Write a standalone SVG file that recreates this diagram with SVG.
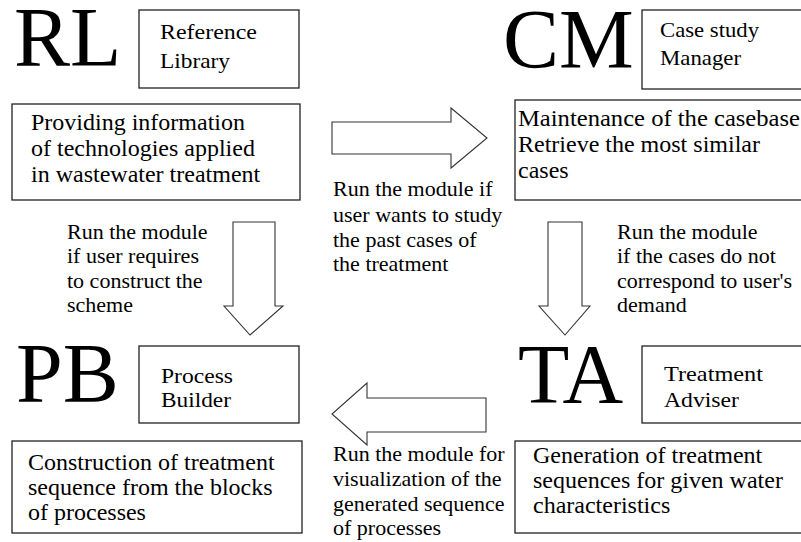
<svg xmlns="http://www.w3.org/2000/svg" width="801" height="542" viewBox="0 0 801 542">
<style>
text{font-family:"Liberation Serif","Times New Roman",serif;fill:#000}
.big{font-size:84px}
.lab{font-size:21px}
.body{font-size:24px}
.mid{font-size:22px}
.box{fill:#fff;stroke:#222;stroke-width:1.3}
.arrow{fill:#fff;stroke:#333;stroke-width:1.1}
</style>
<rect width="801" height="542" fill="#fff"/>
<g id="RL">
<text class="big" x="14" y="66">RL</text>
<rect class="box" x="139" y="10" width="160" height="78"/>
<text class="lab" x="160" y="39" textLength="97" lengthAdjust="spacingAndGlyphs">Reference</text>
<text class="lab" x="160" y="68" textLength="70" lengthAdjust="spacingAndGlyphs">Library</text>
<rect class="box" x="12" y="104" width="288" height="96"/>
<text class="body" x="31" y="130">Providing information</text>
<text class="body" x="31" y="156">of technologies applied</text>
<text class="body" x="31" y="182">in wastewater treatment</text>
</g>
<g id="CM">
<text class="big" x="503" y="68">CM</text>
<rect class="box" x="642" y="10" width="170" height="79"/>
<text class="lab" x="660" y="37" textLength="99" lengthAdjust="spacingAndGlyphs">Case study</text>
<text class="lab" x="660" y="65" textLength="81" lengthAdjust="spacingAndGlyphs">Manager</text>
<rect class="box" x="515" y="100" width="300" height="100"/>
<text class="body" x="518" y="126" textLength="282" lengthAdjust="spacingAndGlyphs">Maintenance of the casebase</text>
<text class="body" x="518" y="152">Retrieve the most similar</text>
<text class="body" x="518" y="178">cases</text>
</g>
<g id="PB">
<text class="big" x="16" y="402">PB</text>
<rect class="box" x="139" y="346" width="160" height="77"/>
<text class="lab" x="161" y="383" textLength="72" lengthAdjust="spacingAndGlyphs">Process</text>
<text class="lab" x="161" y="407" textLength="70" lengthAdjust="spacingAndGlyphs">Builder</text>
<rect class="box" x="12" y="441" width="290" height="92"/>
<text class="body" x="28" y="470">Construction of treatment</text>
<text class="body" x="28" y="495">sequence from the blocks</text>
<text class="body" x="28" y="520">of processes</text>
</g>
<g id="TA">
<text class="big" x="518" y="403">TA</text>
<rect class="box" x="642" y="346" width="170" height="77"/>
<text class="lab" x="664" y="381" textLength="99" lengthAdjust="spacingAndGlyphs">Treatment</text>
<text class="lab" x="664" y="407" textLength="75" lengthAdjust="spacingAndGlyphs">Adviser</text>
<rect class="box" x="515" y="441" width="300" height="92"/>
<text class="body" x="533" y="463">Generation of treatment</text>
<text class="body" x="533" y="488">sequences for given water</text>
<text class="body" x="533" y="513">characteristics</text>
</g>
<g id="connectors">
<polygon class="arrow" points="332,122 451,122 451,108 487,138 451,168 451,154 332,154"/>
<polygon class="arrow" points="233,222 275,222 275,306 283,306 250,335 224,306 233,306"/>
<polygon class="arrow" points="548,222 582,222 582,306 590,306 565,335 539,306 548,306"/>
<polygon class="arrow" points="486,398 486,432 367,432 367,445 332,414 367,383 367,398"/>
</g>
<g id="labels">
<text class="mid" x="333" y="196">Run the module if</text>
<text class="mid" x="333" y="222">user wants to study</text>
<text class="mid" x="333" y="247">the past cases of</text>
<text class="mid" x="333" y="271">the treatment</text>
<text class="mid" x="67" y="239">Run the module</text>
<text class="mid" x="67" y="263">if user requires</text>
<text class="mid" x="67" y="288">to construct the</text>
<text class="mid" x="67" y="312">scheme</text>
<text class="mid" x="617" y="239">Run the module</text>
<text class="mid" x="617" y="263">if the cases do not</text>
<text class="mid" x="617" y="288">correspond to user's</text>
<text class="mid" x="617" y="312">demand</text>
<text class="mid" x="333" y="461">Run the module for</text>
<text class="mid" x="333" y="486">visualization of the</text>
<text class="mid" x="333" y="511">generated sequence</text>
<text class="mid" x="333" y="535">of processes</text>
</g>
</svg>
